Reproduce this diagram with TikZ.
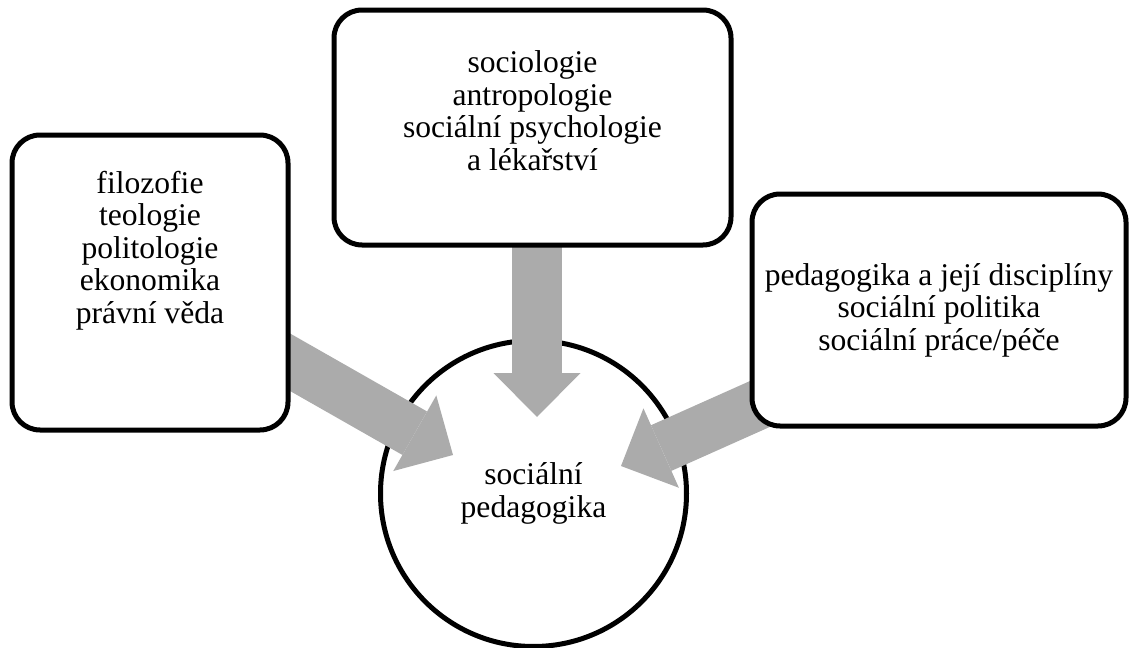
\documentclass[tikz,border=0pt]{standalone}
\usepackage{fontspec}
\setmainfont{Liberation Serif}
\usetikzlibrary{positioning,arrows.meta}
\definecolor{arrowgray}{RGB}{171,171,171}
\pgfdeclarelayer{bottom}
\pgfdeclarelayer{arrowlayer}
\pgfsetlayers{bottom,arrowlayer,main}
\tikzset{
    box/.style={draw, line width=2.5pt, rounded corners=14pt, fill=white, outer sep=0pt},
    txt/.style={align=center, inner sep=0pt, font=\fontsize{15.8}{16.3}\selectfont},
    fat/.style={draw=arrowgray, line width=25pt, -{Triangle[width=43.5pt, length=22pt, line width=0pt]}}
}

\begin{document}
\begin{tikzpicture}[x=0.5pt, y=-0.5pt]
    \useasboundingbox (0,0) rectangle (1132,648);

    % boxes
    \node[box, minimum width=138pt, minimum height=147.5pt] (phil) at (150,282.5) {};
    \node[box, minimum width=198.5pt, minimum height=117.5pt] (soc) at (532.5,127.5) {};
    \node[box, minimum width=187pt, minimum height=116pt] (ped) at (939,310) {};

    \node[txt, below=17.7pt of phil.north] (philtext) {filozofie\\teologie\\politologie\\ekonomika\\právní věda};
    \node[txt, below=20.2pt of soc.north] (soctext) {sociologie\\antropologie\\sociální psychologie\\a lékařství};
    \node[txt] (pedtext) at (ped.center) {pedagogika a její disciplíny\\sociální politika\\sociální práce/péče};

    % centre
    \begin{pgfonlayer}{bottom}
    \node[txt, circle, draw, line width=2.5pt, minimum size=153pt] (sp) at (533.5,493.5) {sociální\\pedagogika};
    \end{pgfonlayer}

    % arrows
    \coordinate (ltip) at (453,455);
    \coordinate (mtip) at (537,417);
    \coordinate (rtip) at (621,466);
    \begin{pgfonlayer}{arrowlayer}
    \draw[fat] (phil.center) -- (ltip);
    \draw[fat] (soc.center -| mtip) -- (mtip);
    \draw[fat] ([yshift=-7pt]ped.center) -- (rtip);
    \end{pgfonlayer}
\end{tikzpicture}
\end{document}
